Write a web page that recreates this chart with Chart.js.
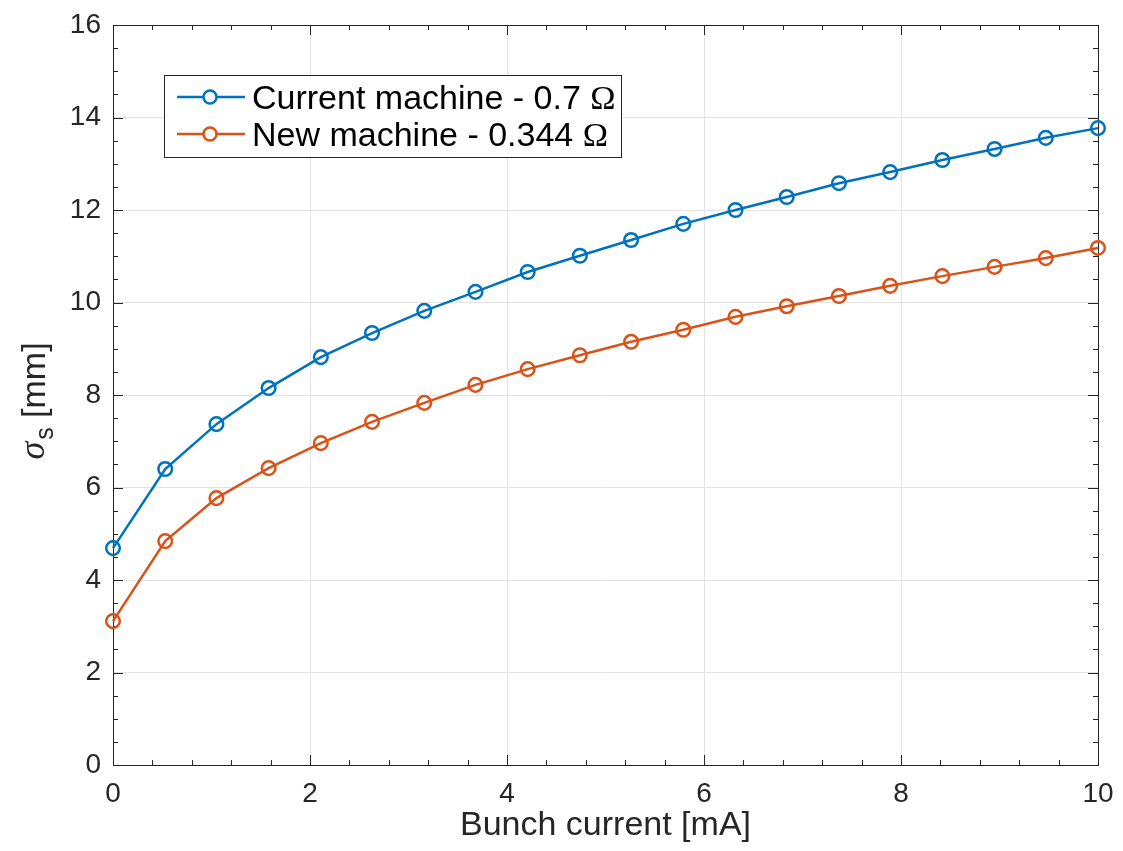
<!DOCTYPE html>
<html>
<head>
<meta charset="utf-8">
<script src="https://cdn.jsdelivr.net/npm/chart.js@4/dist/chart.umd.min.js"></script>
<style>
  html, body { margin: 0; padding: 0; background: #fff; }
  #wrap { width: 1123px; height: 851px; }
</style>
</head>
<body>
<div id="wrap"><canvas id="myChart" width="1123" height="851"></canvas></div>
<script>
// bunch current [mA]
const current = [0, 0.53, 1.05, 1.58, 2.11, 2.63, 3.16, 3.68, 4.21, 4.74,
                 5.26, 5.79, 6.32, 6.84, 7.37, 7.89, 8.42, 8.95, 9.47, 10];
// sigma_s [mm]
const currentMachine = [4.69, 6.40, 7.37, 8.15, 8.82, 9.34, 9.82, 10.23, 10.66, 11.01,
                        11.35, 11.70, 12.00, 12.28, 12.58, 12.82, 13.08, 13.32, 13.56, 13.77];
const newMachine = [3.11, 4.84, 5.77, 6.42, 6.96, 7.42, 7.83, 8.22, 8.56, 8.86,
                    9.15, 9.41, 9.69, 9.92, 10.14, 10.36, 10.57, 10.77, 10.96, 11.18];
const seriesLabels = ['Current machine - 0.7 \u03A9', 'New machine - 0.344 \u03A9'];
const xTicks = [0, 2, 4, 6, 8, 10];
const yTicks = [0, 2, 4, 6, 8, 10, 12, 14, 16];

const blue = '#0072BD';
const orange = '#D95319';
const axisColor = '#262626';
const font = 'Liberation Sans, Arial, Helvetica, sans-serif';
const serif = 'Liberation Serif, Times New Roman, serif';

function pts(ys) {
  return current.map((x, i) => ({ x: x, y: ys[i] }));
}

// box + inward ticks, matlab style
const frame = {
  id: 'frame',
  beforeDatasetsDraw(chart) {
    const c = chart.ctx;
    const a = chart.chartArea;
    const xs = chart.scales.x;
    const ys = chart.scales.y;
    c.save();
    c.strokeStyle = axisColor;
    c.lineWidth = 1;
    c.beginPath();
    for (let v = 0; v <= 10.001; v += 0.4) {
      const px = Math.round(xs.getPixelForValue(v)) + 0.5;
      const len = Math.abs(v / 2 - Math.round(v / 2)) < 0.01 ? 10 : 5;
      c.moveTo(px, a.bottom); c.lineTo(px, a.bottom - len);
      c.moveTo(px, a.top); c.lineTo(px, a.top + len);
    }
    for (let v = 0; v <= 16.001; v += 0.5) {
      const py = Math.round(ys.getPixelForValue(v)) + 0.5;
      const len = v % 2 === 0 ? 10 : 5;
      c.moveTo(a.left, py); c.lineTo(a.left + len, py);
      c.moveTo(a.right, py); c.lineTo(a.right - len, py);
    }
    c.stroke();
    c.strokeRect(Math.round(a.left) + 0.5, Math.round(a.top) + 0.5,
                 Math.round(a.right - a.left), Math.round(a.bottom - a.top));

    // y axis title with subscript
    c.fillStyle = axisColor;
    c.translate(45, 402);
    c.rotate(-Math.PI / 2);
    c.textBaseline = 'alphabetic';
    c.font = 'italic 36px ' + serif;
    const w1 = c.measureText('\u03C3').width;
    c.font = '25px ' + font;
    const w2 = c.measureText('s').width;
    c.font = '34px ' + font;
    const w3 = c.measureText(' [mm]').width;
    let x0 = -(w1 + w2 + w3) / 2;
    c.font = 'italic 36px ' + serif;
    c.fillText('\u03C3', x0, -1);
    c.font = '25px ' + font;
    c.fillText('s', x0 + w1 + 2, 8);
    c.font = '34px ' + font;
    c.fillText(' [mm]', x0 + w1 + w2 + 2, 0);
    c.restore();
  }
};

// legend box inside the axes
const boxLegend = {
  id: 'boxLegend',
  afterDraw(chart) {
    const c = chart.ctx;
    const left = 164.5, top = 75.5, w = 457, h = 82;
    c.save();
    c.fillStyle = '#fff';
    c.fillRect(left, top, w, h);
    c.strokeStyle = axisColor;
    c.lineWidth = 1;
    c.strokeRect(left, top, w, h);
    chart.data.datasets.forEach((ds, i) => {
      const y = 97 + i * 37;
      c.strokeStyle = ds.borderColor;
      c.lineWidth = 2.5;
      c.beginPath();
      c.moveTo(177, y); c.lineTo(245, y);
      c.stroke();
      c.fillStyle = '#fff';
      c.beginPath();
      c.arc(210, y, 6.5, 0, Math.PI * 2);
      c.fill();
      c.stroke();
      // omega is typeset in a serif face, like the tex interpreter
      const parts = ds.label.split(' \u03A9');
      c.fillStyle = '#000';
      c.font = '34px ' + font;
      c.textBaseline = 'alphabetic';
      c.fillText(parts[0], 252, y + 12);
      const tw = c.measureText(parts[0] + ' ').width;
      c.font = '34px ' + serif;
      c.fillText('\u03A9', 252 + tw, y + 12);
    });
    c.restore();
  }
};

const ctx = document.getElementById('myChart');

const chart = new Chart(ctx, {
  type: 'scatter',
  data: {
    datasets: [
      {
        label: seriesLabels[0],
        data: pts(currentMachine),
        showLine: true,
        borderColor: blue,
        backgroundColor: '#fff',
        borderWidth: 2.5,
        pointRadius: 6.8,
        pointBorderWidth: 2.5,
        pointBackgroundColor: 'rgba(0,0,0,0)',
        clip: false
      },
      {
        label: seriesLabels[1],
        data: pts(newMachine),
        showLine: true,
        borderColor: orange,
        backgroundColor: '#fff',
        borderWidth: 2.5,
        pointRadius: 6.8,
        pointBorderWidth: 2.5,
        pointBackgroundColor: 'rgba(0,0,0,0)',
        clip: false
      }
    ]
  },
  options: {
    responsive: false,
    animation: false,
    layout: { padding: { top: 25, right: 25, left: 0, bottom: 0 } },
    plugins: {
      legend: { display: false },
      tooltip: { enabled: false }
    },
    scales: {
      x: {
        type: 'linear',
        min: 0,
        max: 10,
        afterBuildTicks: s => { s.ticks = xTicks.map(v => ({ value: v })); },
        afterFit: s => { s.height = 86; s.paddingLeft = 0; s.paddingRight = 0; },
        border: { display: false },
        grid: { color: '#e3e3e3', drawTicks: false, lineWidth: 1 },
        ticks: {
          color: axisColor,
          padding: 12,
          maxRotation: 0,
          font: { family: font, size: 28 }
        },
        title: {
          display: true,
          text: 'Bunch current [mA]',
          color: axisColor,
          padding: { top: 0, bottom: 5 },
          font: { family: font, size: 34 }
        }
      },
      y: {
        type: 'linear',
        min: 0,
        max: 16,
        afterBuildTicks: s => { s.ticks = yTicks.map(v => ({ value: v })); },
        afterFit: s => { s.width = 113; s.paddingTop = 0; s.paddingBottom = 0; },
        border: { display: false },
        grid: { color: '#e3e3e3', drawTicks: false, lineWidth: 1 },
        ticks: {
          color: axisColor,
          padding: 12,
          font: { family: font, size: 28 }
        }
      }
    }
  },
  plugins: [frame, boxLegend]
});
</script>
</body>
</html>
